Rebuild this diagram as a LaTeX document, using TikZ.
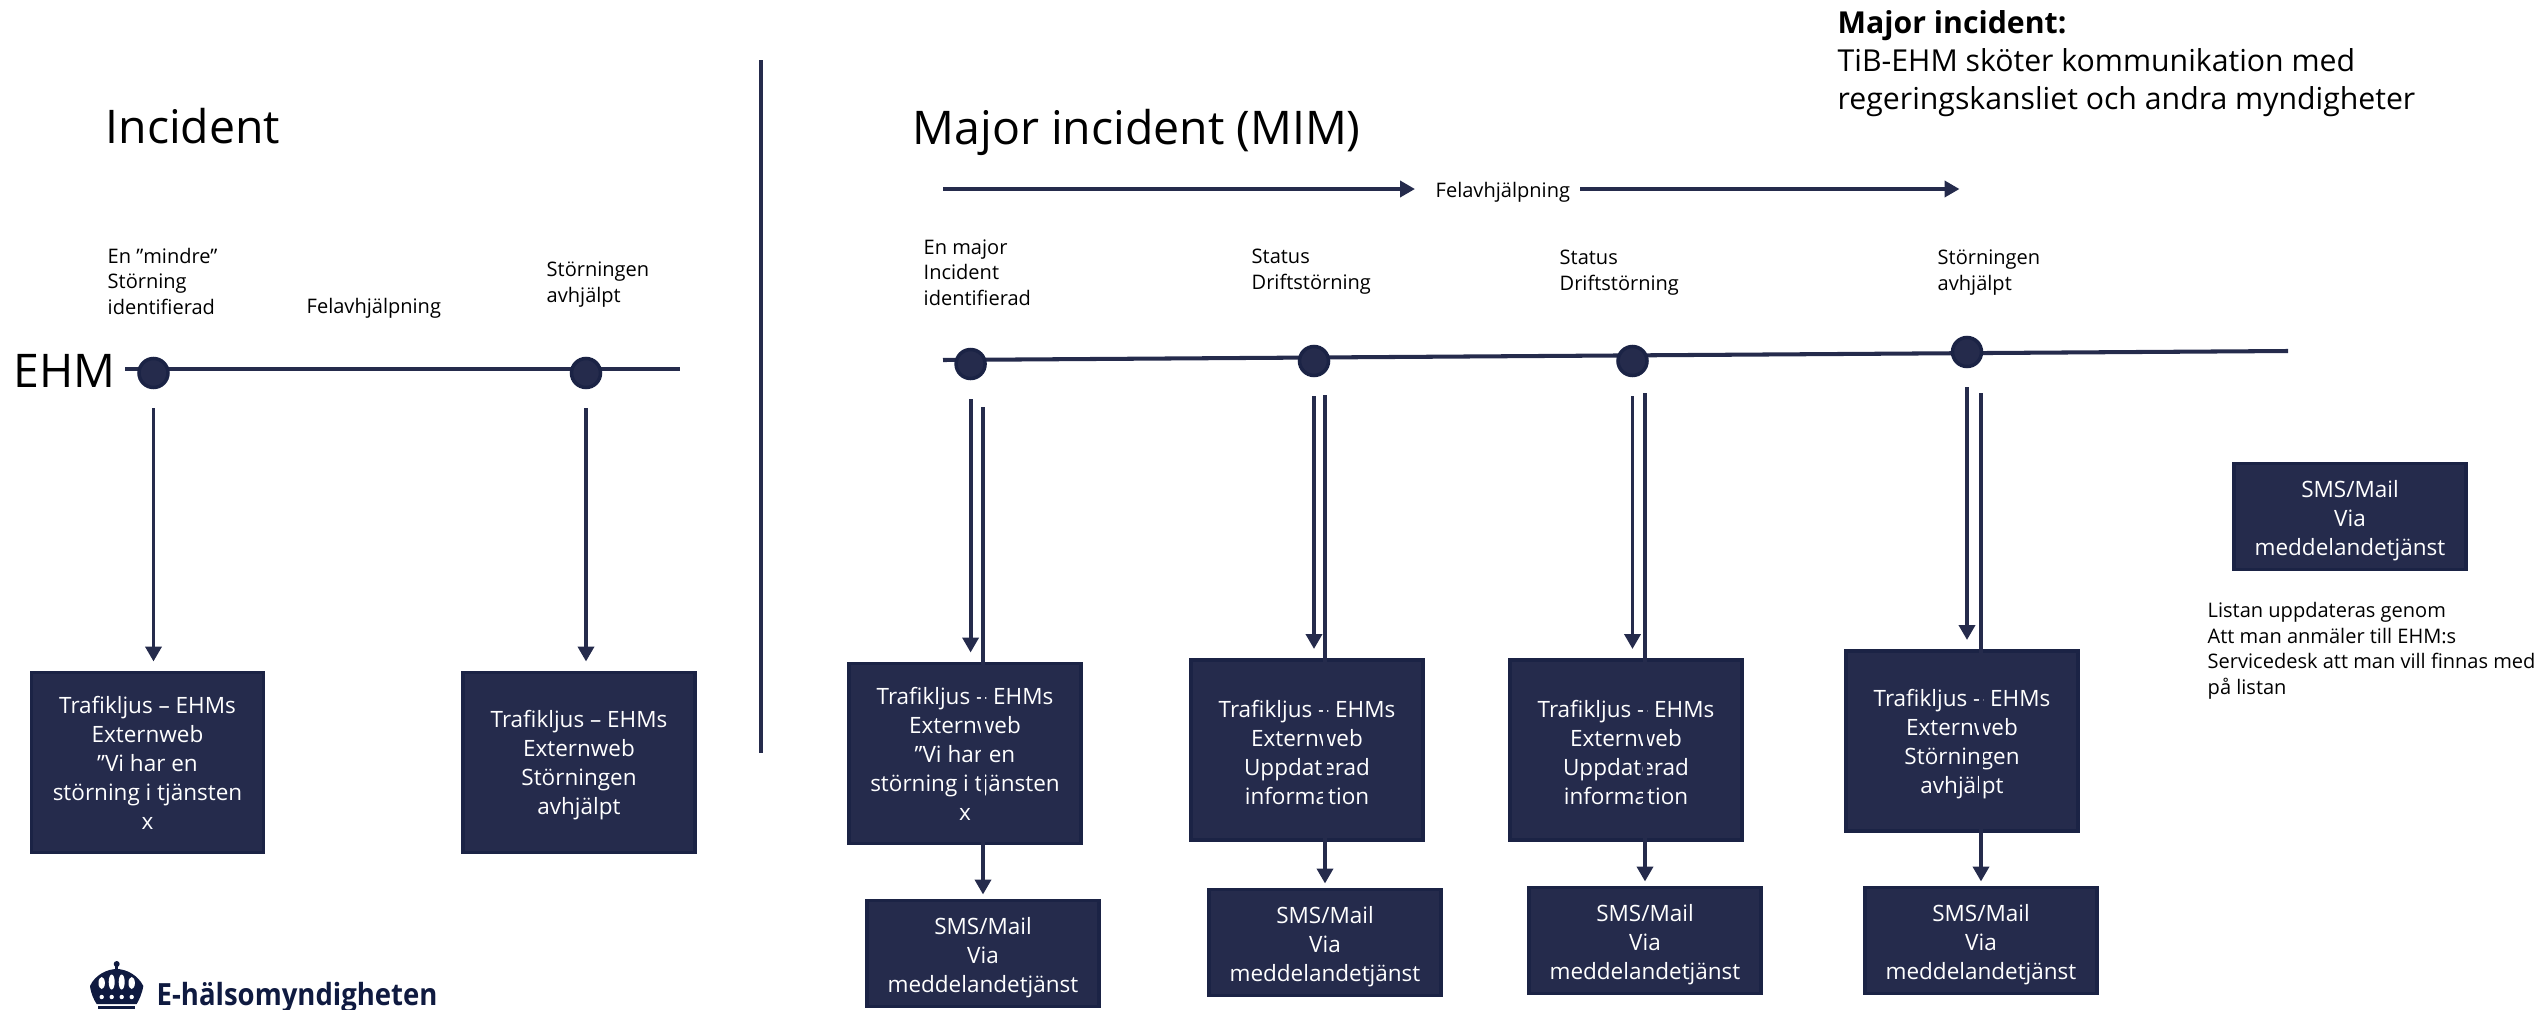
\documentclass[tikz,border=0pt]{standalone}
\usepackage[svgnames, dvipsnames]{xcolor}
\usepackage{fontspec}
\setmainfont{Open Sans}
\newfontfamily\logofont[FakeStretch=0.9]{Open Sans}
\usetikzlibrary{arrows.meta, calc}

\definecolor{ehmblue}{HTML}{252B4C}
\definecolor{ehmedge}{HTML}{1B2345}
\definecolor{ehmlogo}{HTML}{0F1A40}

\newcommand{\rad}[1]{\rule{0pt}{#1}}
\newcommand{\smstext}{\rad{7.4pt}SMS/Mail\\Via\\meddelandetjänst}

\tikzset{
    rubrik/.style={anchor=base west, inner sep=0pt, font=\fontsize{13.2}{17}\selectfont},
    etikett/.style={anchor=base west, inner sep=0pt, align=left, font=\fontsize{5.7}{7.25}\selectfont},
    ruta/.style={draw=ehmedge, line width=1pt, fill=ehmblue, text=white, inner sep=0pt, outer sep=0pt, align=center, minimum width=2.32cm, font=\fontsize{6.4}{8.25}\selectfont},
    trafik/.style={ruta, minimum height=1.80cm},
    sms/.style={ruta, minimum height=1.06cm},
    punkt/.style={circle, draw=ehmedge, line width=1pt, fill=ehmblue, inner sep=0pt, minimum size=0.29cm},
    linje/.style={ehmblue, line width=1.15pt},
    pil/.style={ehmblue, line width=1.1pt, -{Triangle[length=1.5mm,width=1.6mm]}},
    nedpil/.style={pil, shorten <=0.19cm, shorten >=0.11cm},
    dubbelpil/.style={pil, shorten >=0.06cm}
}

\begin{document}
\begin{tikzpicture}
    \useasboundingbox (0,0) rectangle (25.45,10.09);

    % Incident
    \node[rubrik] (incident) at (1.05,8.66) {Incident};
    \node[rubrik] (ehm) at (0.13,6.22) {EHM};
    \node[etikett] (lblI) at (1.07,6.95) {En ”mindre”\\Störning\\identifierad};
    \node[etikett] (felavI) at (3.06,6.96) {Felavhjälpning};
    \node[etikett] (lblII) at (5.46,7.07) {Störningen\\avhjälpt};
    \coordinate (axelIstart) at (1.25,6.40);
    \coordinate (axelIslut) at (6.80,6.40);
    \draw[linje] (axelIstart) -- (axelIslut);
    \node[punkt] (dotI) at (1.535,6.36) {};
    \node[punkt] (dotII) at (5.86,6.36) {};
    \node[trafik] (boxI) at (1.475,2.465) {Trafikljus – EHMs\\Externweb\\”Vi har en\\störning i tjänsten\\x};
    \node[trafik] (boxII) at (5.79,2.465) {\rad{6.5pt}Trafikljus – EHMs\\Externweb\\Störningen\\avhjälpt};
    \draw[nedpil] (dotI) -- (dotI |- boxI.north);
    \draw[nedpil] (dotII) -- (dotII |- boxII.north);

    % mellan delarna
    \coordinate (delaTopp) at (7.61,9.49);
    \coordinate (delaBotten) at (7.61,2.56);
    \draw[ehmblue, line width=0.9pt] (delaTopp) -- (delaBotten);

    % Major incident
    \node[rubrik] (major) at (9.12,8.65) {Major incident (MIM)};
    \node[etikett] (felavM) at (14.35,8.12) {Felavhjälpning};
    \coordinate (felStart) at (9.43,8.20);
    \coordinate (felSlut) at (19.595,8.20);
    \draw[pil, shorten >=0.2cm] (felStart) -- (felStart -| felavM.west);
    \draw[pil, shorten <=0.095cm] (felSlut -| felavM.east) -- (felSlut);
    \node[etikett] (lblA) at (9.23,7.04) {En major\\Incident\\identifierad};
    \node[etikett] (lblB) at (12.51,7.20) {Status\\Driftstörning};
    \node[etikett] (lblC) at (15.59,7.19) {Status\\Driftstörning};
    \node[etikett] (lblD) at (19.37,7.19) {Störningen\\avhjälpt};
    \coordinate (axelMstart) at (9.43,6.49);
    \coordinate (axelMslut) at (22.88,6.58);
    \draw[linje] (axelMstart) -- (axelMslut);
    \node[punkt] (dotA) at (9.706,6.45) {};
    \node[punkt] (dotB) at (13.14,6.48) {};
    \node[punkt] (dotC) at (16.325,6.48) {};
    \node[punkt] (dotD) at (19.67,6.57) {};

    \node[trafik] (boxA) at (9.65,2.555) {Trafikljus – EHMs\\Externweb\\”Vi har en\\störning i tjänsten\\x};
    \node[trafik] (boxB) at (13.07,2.59) {\rad{6.5pt}Trafikljus – EHMs\\Externweb\\Uppdaterad\\information};
    \node[trafik] (boxC) at (16.26,2.59) {\rad{6.5pt}Trafikljus – EHMs\\Externweb\\Uppdaterad\\information};
    \node[trafik] (boxD) at (19.62,2.68) {\rad{6.5pt}Trafikljus – EHMs\\Externweb\\Störningen\\avhjälpt};
    \node[sms] (smsA) at (9.83,0.555) {\smstext};
    \node[sms] (smsB) at (13.25,0.665) {\smstext};
    \node[sms] (smsC) at (16.45,0.685) {\smstext};
    \node[sms] (smsD) at (19.81,0.685) {\smstext};

    \draw[nedpil] (dotA) -- (dotA |- boxA.north);
    \draw[nedpil] (dotB) -- (dotB |- boxB.north);
    \draw[nedpil] (dotC) -- (dotC |- boxC.north);
    \draw[nedpil] (dotD) -- (dotD |- boxD.north);
    \coordinate (dubA) at (9.83,6.02);
    \coordinate (dubB) at (13.25,6.14);
    \coordinate (dubC) at (16.45,6.16);
    \coordinate (dubD) at (19.81,6.16);
    \draw[dubbelpil] (dubA) -- (smsA.north);
    \draw[dubbelpil] (dubB) -- (smsB.north);
    \draw[dubbelpil] (dubC) -- (smsC.north);
    \draw[dubbelpil] (dubD) -- (smsD.north);

    % till hoger
    \node[rubrik, align=left, font=\fontsize{8.6}{10.8}\selectfont] (info) at (18.37,9.00) {\textbf{Major incident:}\\TiB-EHM sköter kommunikation med\\regeringskansliet och andra myndigheter};
    \node[sms] (smsX) at (23.5,4.925) {\smstext};
    \node[etikett] (lista) at (22.07,3.15) {Listan uppdateras genom\\Att man anmäler till EHM:s\\Servicedesk att man vill finnas med\\på listan};

    % logga
    \fill[ehmlogo] (0.90,0.23) .. controls (0.95,0.34) and (1.07,0.40) .. (1.167,0.40) .. controls (1.26,0.40) and (1.38,0.34) .. (1.433,0.23) .. controls (1.42,0.15) and (1.39,0.09) .. (1.367,0.05) -- (0.967,0.05) .. controls (0.94,0.09) and (0.91,0.15) .. (0.90,0.23) -- cycle;
    \fill[ehmlogo] (1.152,0.39) rectangle (1.182,0.47);
    \fill[ehmlogo] (1.167,0.45) circle (0.03);
    \fill[ehmlogo] (0.98,0) rectangle (1.35,0.03);
    \fill[white] (1.017,0.26) ellipse (0.032 and 0.06) (1.117,0.27) ellipse (0.03 and 0.075) (1.217,0.27) ellipse (0.03 and 0.075) (1.317,0.26) ellipse (0.032 and 0.06);
    \fill[white] (1.017,0.12) circle (0.022) (1.117,0.12) circle (0.022) (1.217,0.12) circle (0.022) (1.317,0.12) circle (0.022);
    \node[anchor=base west, inner sep=0pt, text=ehmlogo, font=\fontsize{8.7}{10}\selectfont\logofont\bfseries] (logo) at (1.56,0.04) {E-hälsomyndigheten};
\end{tikzpicture}
\end{document}
